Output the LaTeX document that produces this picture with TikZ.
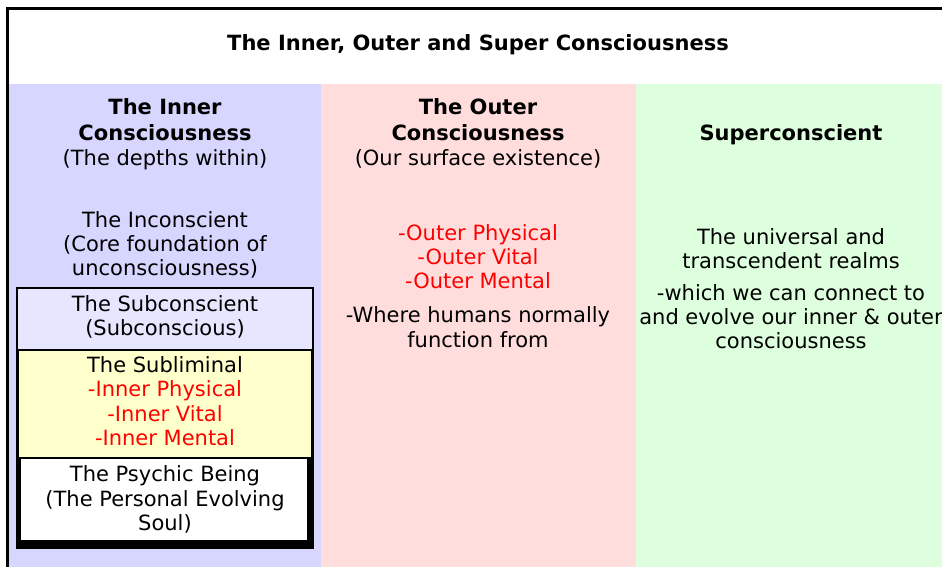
\documentclass[tikz,border=0pt]{standalone}
\usepackage{fontspec}
\setmainfont{DejaVu Sans}
\definecolor{colblue}{HTML}{D6D6FF}
\definecolor{colpink}{HTML}{FFDDDD}
\definecolor{colgreen}{HTML}{DDFFDD}
\definecolor{subc}{HTML}{E6E6FF}
\definecolor{subl}{HTML}{FFFFCC}
\definecolor{redtxt}{HTML}{FF0000}
\tikzset{
  txt/.style={anchor=base, inner sep=0pt, font=\fontsize{21}{25}\selectfont, text=black},
  rtxt/.style={txt, text=redtxt},
  hd/.style={anchor=base, inner sep=0pt, font=\bfseries\fontsize{21}{25}\selectfont, text=black},
}
\begin{document}
\begin{tikzpicture}[x=1pt,y=-1pt]
\useasboundingbox (0,0) rectangle (942,567);
\fill[white] (0,0) rectangle (942,567);
% columns
\fill[colblue] (9,84) rectangle (321,567);
\fill[colpink] (321,84) rectangle (636,567);
\fill[colgreen] (636,84) rectangle (942,567);
% frame
\draw[line width=3pt] (7.5,567) -- (7.5,9) -- (942,9);
% nested boxes
\fill[black] (16,287) rectangle (314,549);
\fill[subc] (18,289) rectangle (312,349);
\fill[subl] (19,351) rectangle (311,457);
\fill[white] (21,459) rectangle (307,540);
% title
\node[hd] (title) at (478,51) {The Inner, Outer and Super Consciousness};
% blue column
\node[hd] (ih1) at (165,115) {The Inner};
\node[hd] (ih2) at (165,140) {Consciousness};
\node[txt] (ih3) at (165,165) {(The depths within)};
\node[txt] (inc1) at (165,227) {The Inconscient};
\node[txt] (inc2) at (165,251) {(Core foundation of};
\node[txt] (inc3) at (165,275) {unconsciousness)};
\node[txt] (sub1) at (165,311) {The Subconscient};
\node[txt] (sub2) at (165,335) {(Subconscious)};
\node[txt] (sl1) at (165,372) {The Subliminal};
\node[rtxt] (sl2) at (165,396) {-Inner Physical};
\node[rtxt] (sl3) at (165,421) {-Inner Vital};
\node[rtxt] (sl4) at (165,445) {-Inner Mental};
\node[txt] (ps1) at (165,481) {The Psychic Being};
\node[txt] (ps2) at (165,506) {(The Personal Evolving};
\node[txt] (ps3) at (165,530) {Soul)};
% pink column
\node[hd] (oh1) at (478,115) {The Outer};
\node[hd] (oh2) at (478,140) {Consciousness};
\node[txt] (oh3) at (478,165) {(Our surface existence)};
\node[rtxt] (o1) at (478,240) {-Outer Physical};
\node[rtxt] (o2) at (478,264) {-Outer Vital};
\node[rtxt] (o3) at (478,288) {-Outer Mental};
\node[txt] (o4) at (478,322) {-Where humans normally};
\node[txt] (o5) at (478,347) {function from};
% green column
\node[hd] (sh1) at (791,140) {Superconscient};
\node[txt] (s1) at (791,244) {The universal and};
\node[txt] (s2) at (791,268) {transcendent realms};
\node[txt] (s3) at (791,300) {-which we can connect to};
\node[txt] (s4) at (791,324) {and evolve our inner \& outer};
\node[txt] (s5) at (791,348) {consciousness};
\end{tikzpicture}
\end{document}
